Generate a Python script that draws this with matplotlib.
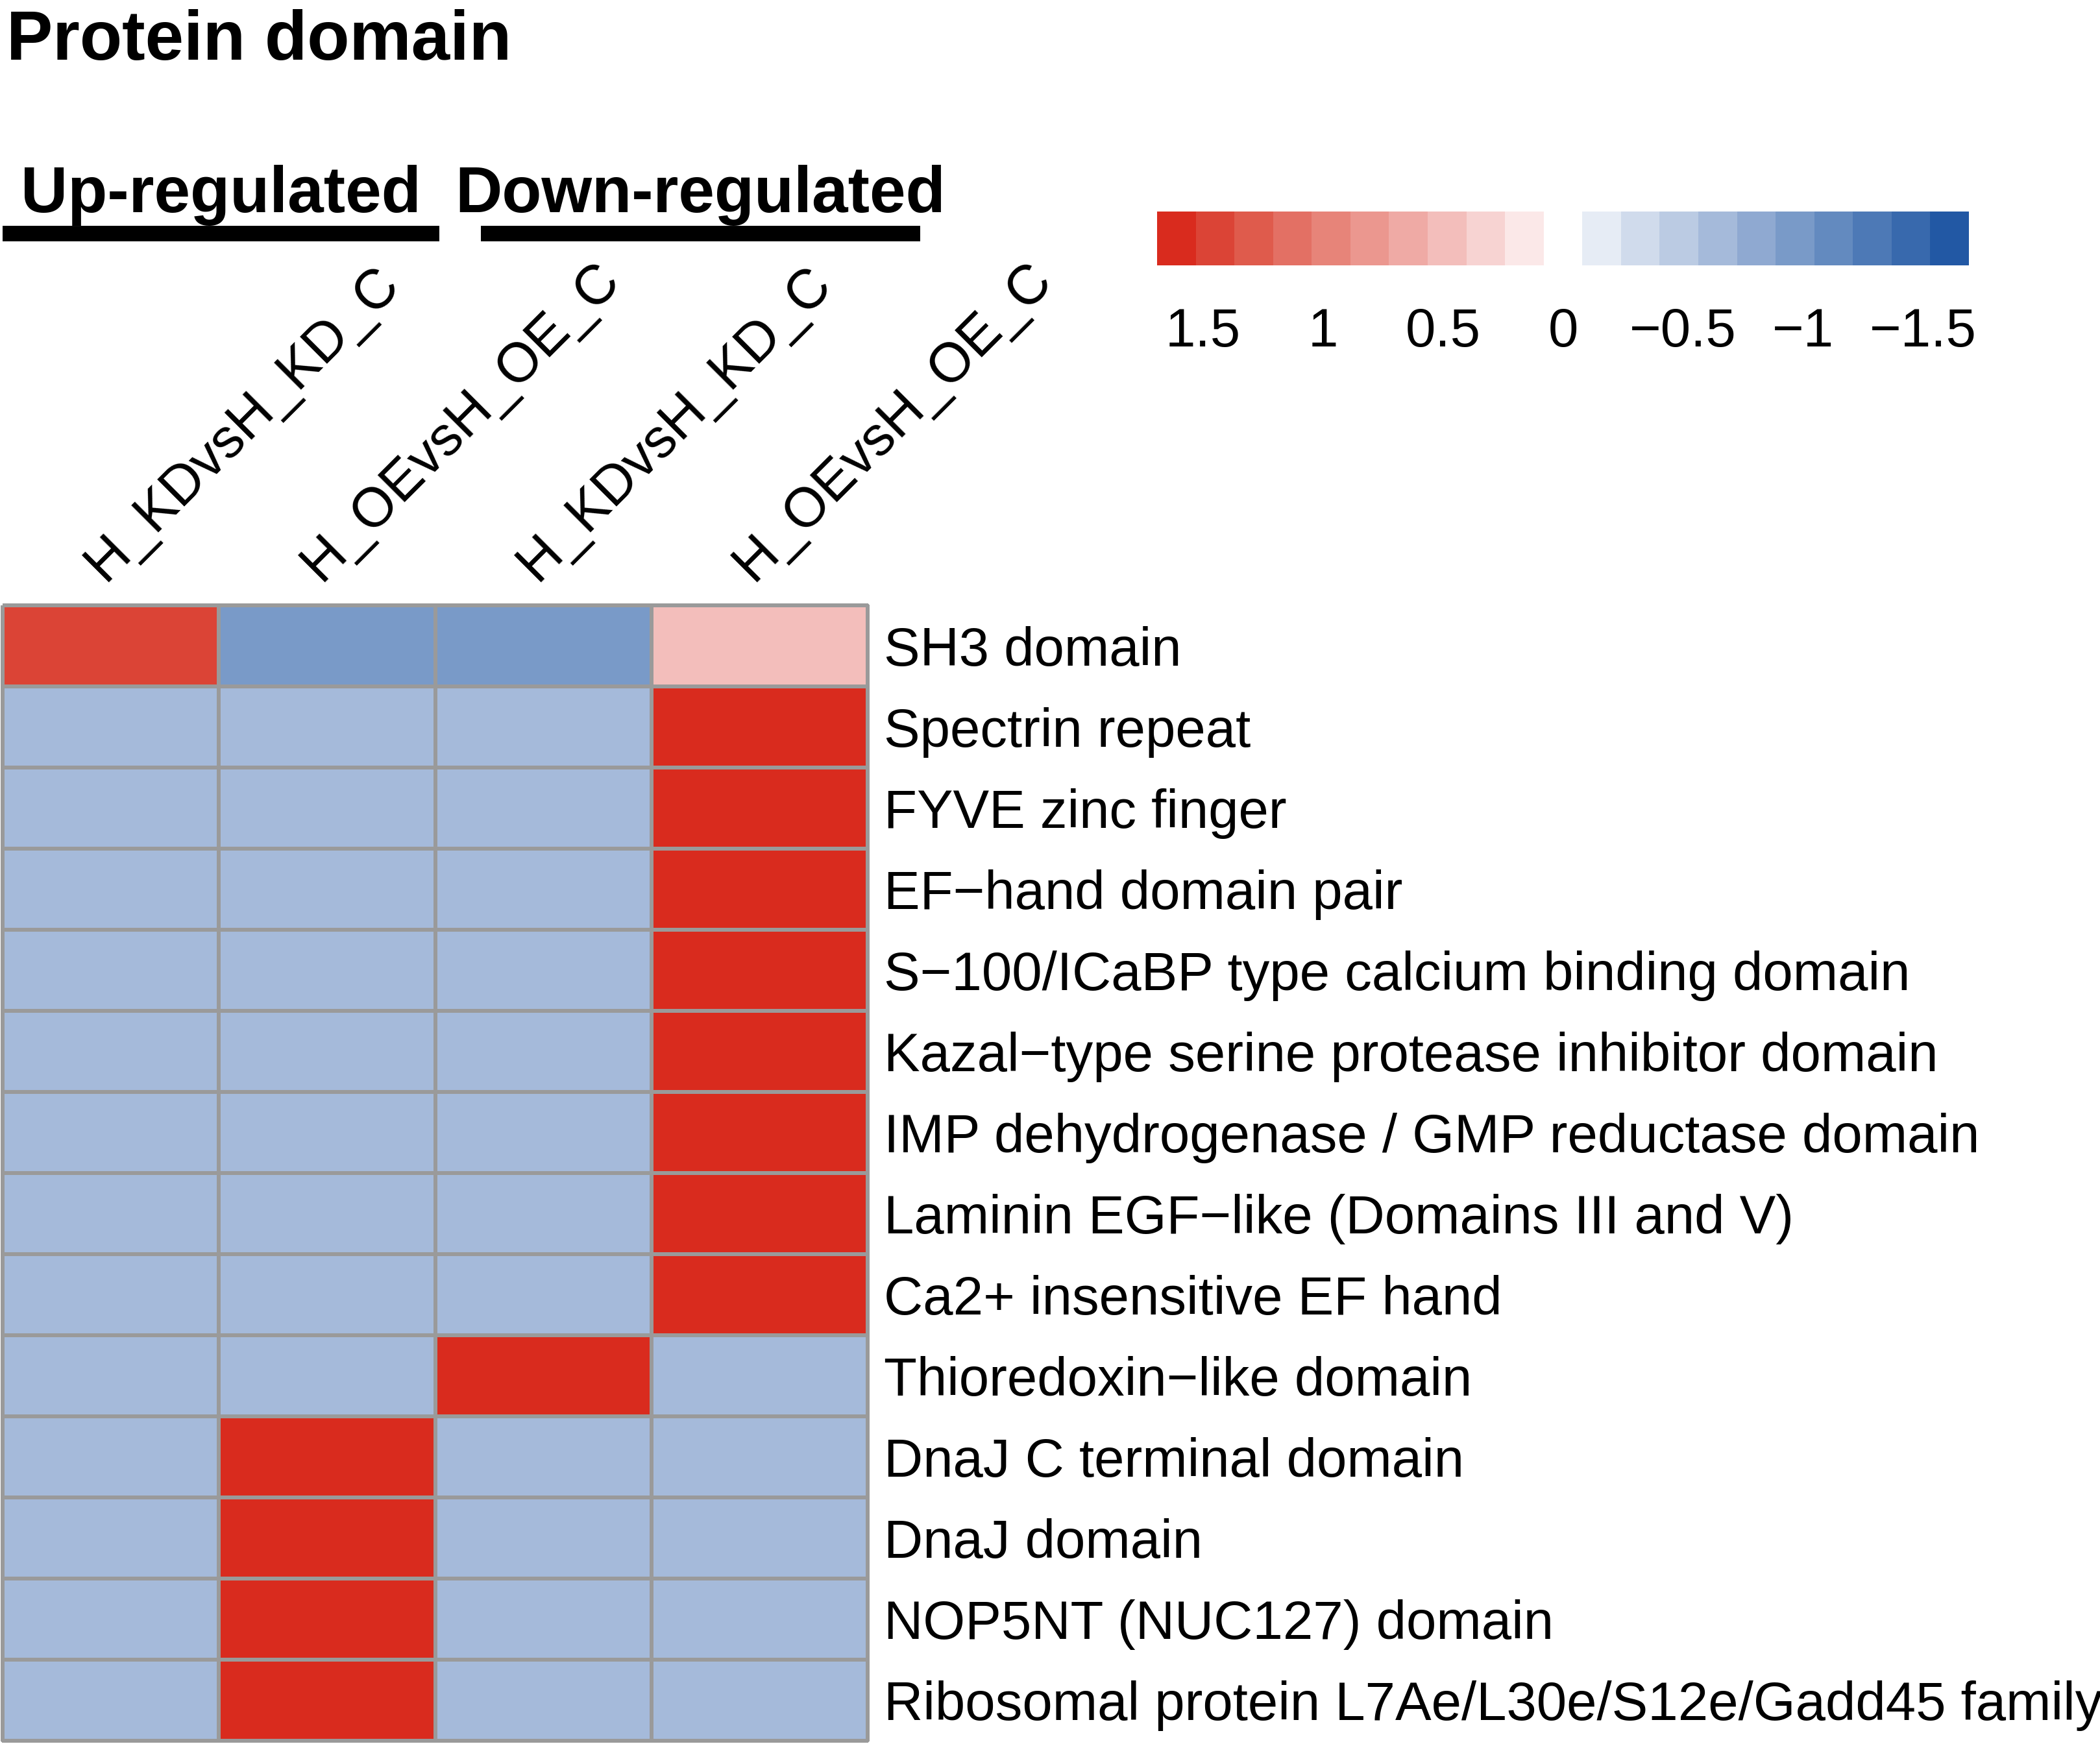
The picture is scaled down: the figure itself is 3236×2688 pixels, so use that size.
import numpy as np
import matplotlib
matplotlib.use("Agg")
import matplotlib.pyplot as plt
from matplotlib.colors import ListedColormap, BoundaryNorm
from matplotlib.cm import ScalarMappable
from matplotlib.lines import Line2D
from matplotlib.transforms import blended_transform_factory

plt.rcParams['font.family'] = ['Liberation Sans', 'DejaVu Sans']

# ---------------- data ----------------
row_labels = [
    "SH3 domain",
    "Spectrin repeat",
    "FYVE zinc finger",
    "EF\u2212hand domain pair",
    "S\u2212100/ICaBP type calcium binding domain",
    "Kazal\u2212type serine protease inhibitor domain",
    "IMP dehydrogenase / GMP reductase domain",
    "Laminin EGF\u2212like (Domains III and V)",
    "Ca2+ insensitive EF hand",
    "Thioredoxin\u2212like domain",
    "DnaJ C terminal domain",
    "DnaJ domain",
    "NOP5NT (NUC127) domain",
    "Ribosomal protein L7Ae/L30e/S12e/Gadd45 family",
]
col_labels = ["H_KDvsH_KD_C", "H_OEvsH_OE_C", "H_KDvsH_KD_C", "H_OEvsH_OE_C"]

up_kd = [1.45, -0.65, -0.65, -0.65, -0.65, -0.65, -0.65, -0.65, -0.65, -0.65, -0.65, -0.65, -0.65, -0.65]
up_oe = [-0.95, -0.65, -0.65, -0.65, -0.65, -0.65, -0.65, -0.65, -0.65, -0.65, 1.6, 1.6, 1.6, 1.6]
down_kd = [-0.95, -0.65, -0.65, -0.65, -0.65, -0.65, -0.65, -0.65, -0.65, 1.6, -0.65, -0.65, -0.65, -0.65]
down_oe = [0.45, 1.6, 1.6, 1.6, 1.6, 1.6, 1.6, 1.6, 1.6, -0.65, -0.65, -0.65, -0.65, -0.65]

group_labels = ["Up-regulated", "Down-regulated"]
cbar_ticks = [1.5, 1, 0.5, 0, -0.5, -1, -1.5]
cbar_ticklabels = ["1.5", "1", "0.5", "0", "\u22120.5", "\u22121", "\u22121.5"]

# legend bins, left (high) to right (low)
bin_colors = ["#D92B1E", "#DB4436", "#DF5B4C", "#E37064", "#E78479", "#EB978F",
              "#EFAAA5", "#F3BEBB", "#F7D3D2", "#FBE8E8", "#FFFFFF",
              "#E6ECF5", "#D0DBEC", "#BBCBE3", "#A5BADA", "#8FA9D1",
              "#799AC8", "#638ABF", "#4D79B6", "#3869AD", "#2258A4"]
vmax = 1.69

# ---------------- figure ----------------
W, H = 3236, 2688
dpi = 200
fig = plt.figure(figsize=(W / dpi, H / dpi), dpi=dpi)

data = np.array([up_kd, up_oe, down_kd, down_oe]).T
nrow, ncol = data.shape

cmap = ListedColormap(bin_colors[::-1])
bounds = np.linspace(-vmax, vmax, len(bin_colors) + 1)
norm = BoundaryNorm(bounds, cmap.N)

ax = fig.add_axes([4 / W, 5 / H, (1337 - 4) / W, (2683 - 933) / H])
mesh = ax.pcolormesh(np.arange(ncol + 1), np.arange(nrow + 1), data, cmap=cmap, norm=norm,
                     edgecolors="#9A9A9A", linewidth=1.6)
mesh.set_clip_on(False)
ax.set_xlim(0, ncol)
ax.set_ylim(nrow, 0)
ax.set_xticks([])
ax.set_yticks([])
for s in ax.spines.values():
    s.set_visible(False)

# row labels
ty = blended_transform_factory(ax.transAxes, ax.transData)
for i, lab in enumerate(row_labels):
    ax.text(1 + 25 / 1333, i + 0.5 + 0.066, lab, transform=ty, ha="left", va="center", fontsize=30)

# column labels
tx = blended_transform_factory(ax.transData, ax.transAxes)
for j, lab in enumerate(col_labels):
    ax.text(j + 0.5 - 0.03, 1 + 36 / 1750, lab, transform=tx, rotation=45,
            rotation_mode="anchor", ha="left", va="baseline", fontsize=30.5)

# title
fig.text(10 / W, 1 - 92 / H, "Protein domain", fontsize=38.5, fontweight="bold",
         ha="left", va="baseline")

# group headers with bars
bars = [(4, 677), (741, 1418)]
for (x0, x1), lab in zip(bars, group_labels):
    yb = 1 - 360 / H
    fig.add_artist(Line2D([x0 / W, x1 / W], [yb, yb], transform=fig.transFigure,
                          color="black", linewidth=8.6, solid_capstyle="butt"))
    fig.text((x0 + x1) / 2 / W, 1 - 327 / H, lab, fontsize=36, fontweight="bold",
             ha="center", va="baseline")

# colorbar
cax = fig.add_axes([1783 / W, 1 - 409 / H, (3034 - 1783) / W, (409 - 326) / H])
sm = ScalarMappable(norm=norm, cmap=cmap)
cb = fig.colorbar(sm, cax=cax, orientation="horizontal")
cb.outline.set_visible(False)
cb.set_ticks(cbar_ticks)
cb.set_ticklabels(cbar_ticklabels)
cb.minorticks_off()
cax.invert_xaxis()
cax.tick_params(which="both", length=0, labelsize=30, pad=23)

fig.savefig("out.png", dpi=dpi)
